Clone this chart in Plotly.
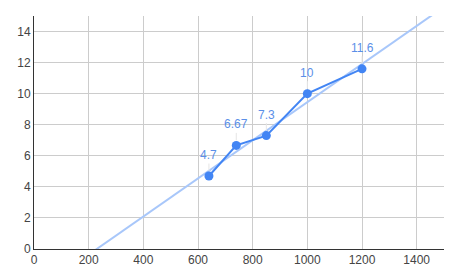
import numpy as np
import plotly.graph_objects as go

x_vals = [640, 740, 850, 1000, 1200]
y_vals = [4.7, 6.67, 7.3, 10, 11.6]
labels = ["4.7", "6.67", "7.3", "10", "11.6"]

x_ticks = [0, 200, 400, 600, 800, 1000, 1200, 1400]
y_ticks = [0, 2, 4, 6, 8, 10, 12, 14]

slope, intercept = np.polyfit(x_vals, y_vals, 1)
tx = np.array([0, 1500])
ty = slope * tx + intercept

fig = go.Figure()
fig.add_trace(go.Scatter(x=tx, y=ty, mode="lines",
                         line=dict(color="#a8c7fa", width=2),
                         hoverinfo="skip", showlegend=False))
fig.add_trace(go.Scatter(x=x_vals, y=y_vals, mode="lines+markers",
                         line=dict(color="#4285f4", width=2),
                         marker=dict(color="#4285f4", size=9),
                         showlegend=False))

for xv, yv, lab in zip(x_vals, y_vals, labels):
    fig.add_annotation(x=xv, y=yv, text=lab, showarrow=True, ax=0, ay=-21,
                       arrowhead=0, arrowwidth=1, arrowcolor="#e6e6e6",
                       standoff=5, font=dict(color="#5b8fe8", size=12))

fig.update_layout(
    width=451, height=278,
    margin=dict(l=34, r=7, t=16, b=29),
    paper_bgcolor="white", plot_bgcolor="white",
    font=dict(family="Liberation Sans, Arial, sans-serif", size=12, color="#444"),
)
fig.update_xaxes(range=[0, 1500], tickvals=x_ticks, showgrid=True, gridcolor="#cccccc",
                 gridwidth=1, zeroline=False, showline=True, linecolor="#333", linewidth=1,
                 ticks="", tickfont=dict(color="#444", size=12))
fig.update_yaxes(range=[0, 15], tickvals=y_ticks, showgrid=True, gridcolor="#cccccc",
                 gridwidth=1, zeroline=False, showline=True, linecolor="#333", linewidth=1,
                 ticks="", tickfont=dict(color="#444", size=12))

fig.write_html("out.html")
